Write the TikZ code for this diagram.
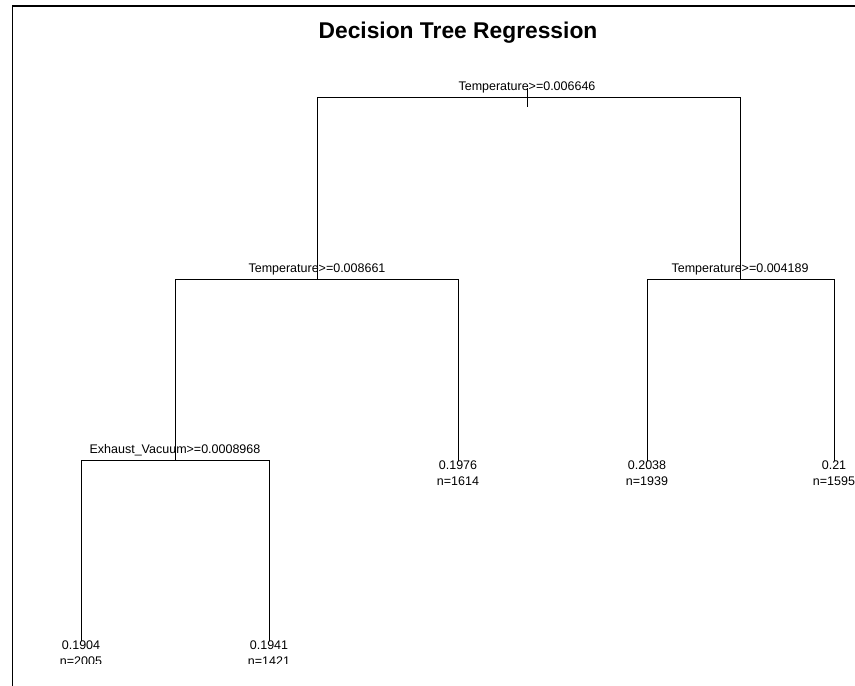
\documentclass[tikz,border=0pt]{standalone}
\usepackage{fontspec}
\setmainfont{Liberation Sans}
\usetikzlibrary{positioning}

\begin{document}
\begin{tikzpicture}[x=1pt, y=-1pt,
  splitlbl/.style={anchor=base, inner sep=0pt, font=\fontsize{12.5}{15}\selectfont},
  leaflbl/.style={anchor=north, inner sep=0pt, align=center, font=\fontsize{12.5}{15.5}\selectfont},
  branch/.style={line width=1pt},
  frame/.style={line width=1.6pt}
]
\useasboundingbox (0,0) rectangle (855,686);
\draw[frame] (12.5,686) -- (12.5,6) -- (855,6);
\node[font=\bfseries\fontsize{22.8}{27}\selectfont, inner sep=0pt] (title) at (458,33) {Decision Tree Regression};

\begin{scope}
\clip (13.5,7) rectangle (855,663);
% split points
\coordinate (root) at (527,97);
\coordinate (tl) at (317,279);
\coordinate (tr) at (740,279);
\coordinate (tll) at (175,460);
% leaves
\coordinate (tlr) at (458,461);
\coordinate (trl) at (647,461);
\coordinate (trr) at (834,461);
\coordinate (tlll) at (81,641);
\coordinate (tllr) at (269,641);

% branches
\draw[branch] ([yshift=9pt]root) -- ([yshift=-10pt]root);
\draw[branch] (root) -| (tl);
\draw[branch] (root) -| (tr);
\draw[branch] (tl) -| (tll);
\draw[branch] (tl) -| (tlr);
\draw[branch] (tr) -| (trl);
\draw[branch] (tr) -| (trr);
\draw[branch] (tll) -| (tlll);
\draw[branch] (tll) -| (tllr);

% split labels
\node[splitlbl] (rootlbl) at ([yshift=6.5pt]root) {Temperature>=0.006646};
\node[splitlbl] (tllbl) at ([yshift=6.5pt]tl) {Temperature>=0.008661};
\node[splitlbl] (trlbl) at ([yshift=6.5pt]tr) {Temperature>=0.004189};
\node[splitlbl] (tlllbl) at ([yshift=6.5pt]tll) {Exhaust\_Vacuum>=0.0008968};

% leaf labels
\node[leaflbl] (tlrlbl) at (tlr) {0.1976\\n=1614};
\node[leaflbl] (trllbl) at (trl) {0.2038\\n=1939};
\node[leaflbl] (trrlbl) at (trr) {0.21\\n=1595};
\node[leaflbl] (tllllbl) at (tlll) {0.1904\\n=2005};
\node[leaflbl] (tllrlbl) at (tllr) {0.1941\\n=1421};
\end{scope}
\end{tikzpicture}
\end{document}
